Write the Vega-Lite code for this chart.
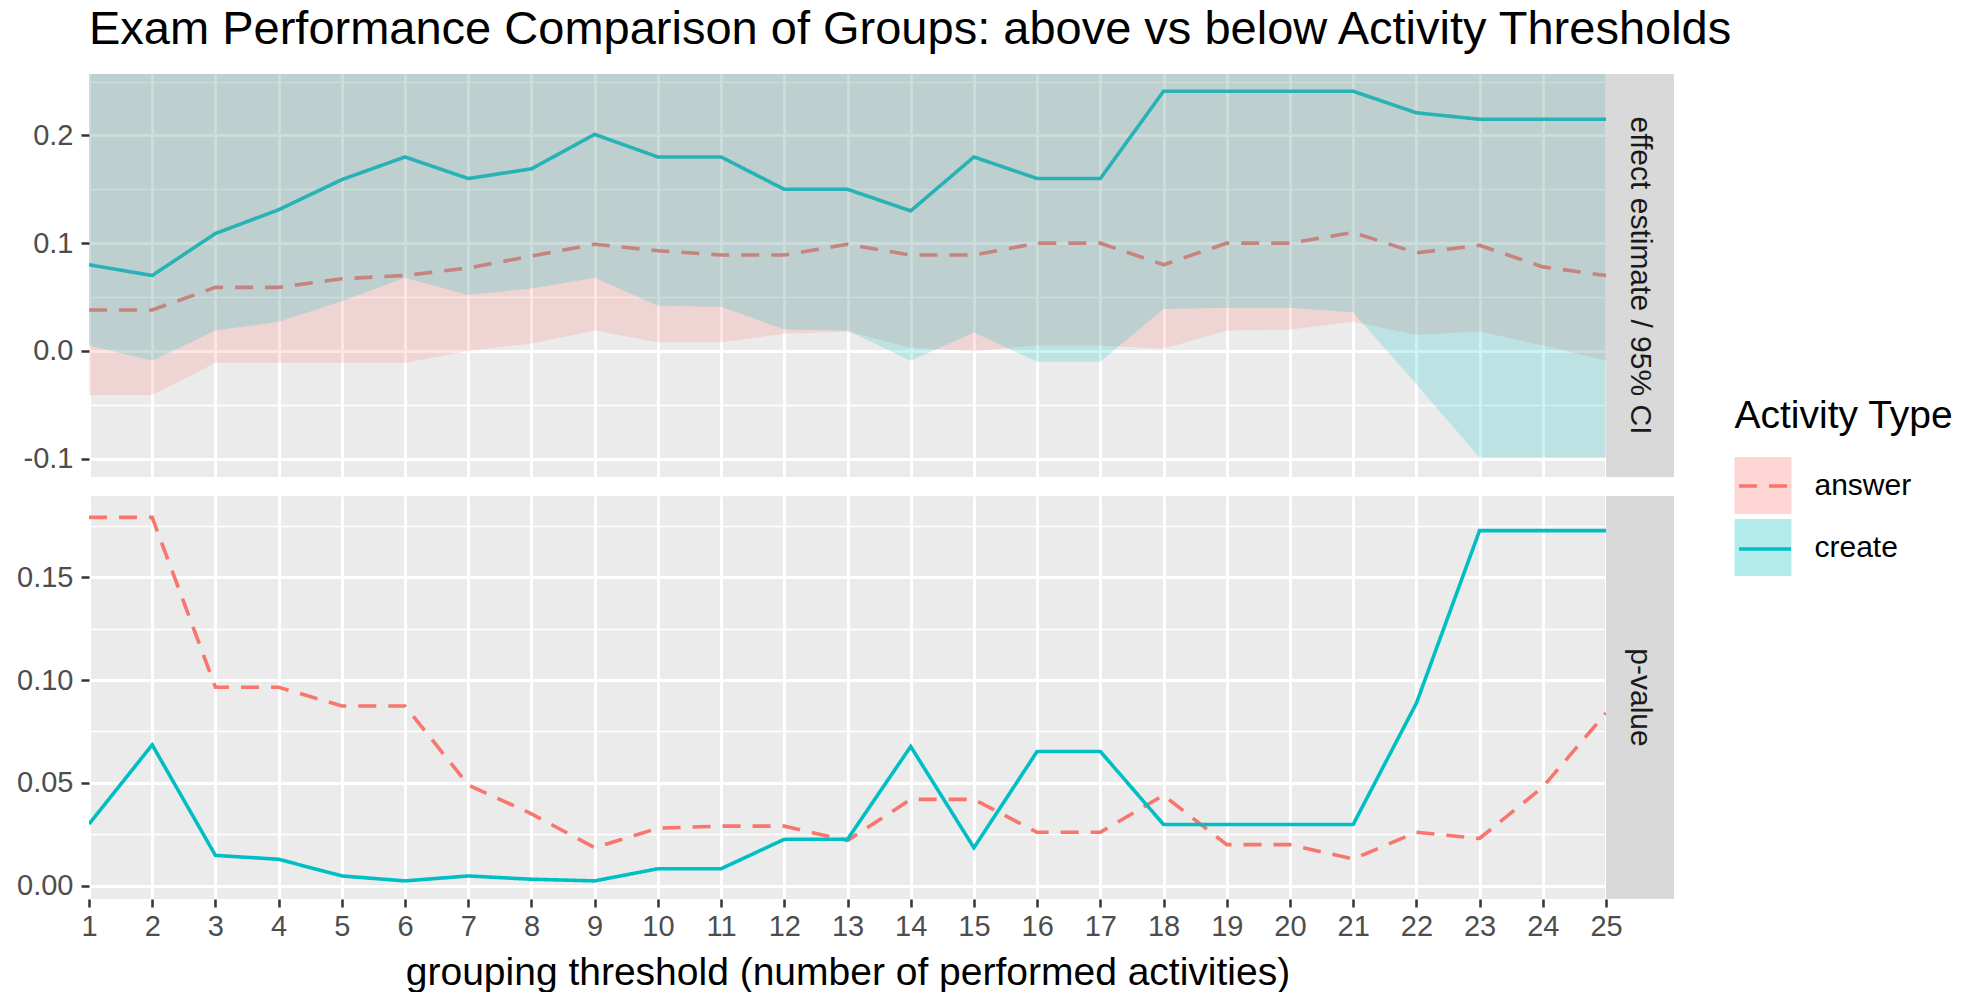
{
  "$schema": "https://vega.github.io/schema/vega-lite/v6.json",
  "background": "white",
  "padding": {"left": 16, "top": 6, "right": 10, "bottom": 0},
  "config": {
    "font": "Liberation Sans",
    "view": {"fill": "#EBEBEB", "stroke": null}
  },
  "datasets": {
    "effect": [
      {"threshold": 1, "activity": "answer", "estimate": 0.038, "ci_low": -0.041},
      {"threshold": 2, "activity": "answer", "estimate": 0.038, "ci_low": -0.041},
      {"threshold": 3, "activity": "answer", "estimate": 0.059, "ci_low": -0.011},
      {"threshold": 4, "activity": "answer", "estimate": 0.059, "ci_low": -0.011},
      {"threshold": 5, "activity": "answer", "estimate": 0.067, "ci_low": -0.011},
      {"threshold": 6, "activity": "answer", "estimate": 0.070, "ci_low": -0.011},
      {"threshold": 7, "activity": "answer", "estimate": 0.077, "ci_low": 0.000},
      {"threshold": 8, "activity": "answer", "estimate": 0.088, "ci_low": 0.007},
      {"threshold": 9, "activity": "answer", "estimate": 0.099, "ci_low": 0.019},
      {"threshold": 10, "activity": "answer", "estimate": 0.093, "ci_low": 0.008},
      {"threshold": 11, "activity": "answer", "estimate": 0.089, "ci_low": 0.008},
      {"threshold": 12, "activity": "answer", "estimate": 0.089, "ci_low": 0.016},
      {"threshold": 13, "activity": "answer", "estimate": 0.099, "ci_low": 0.018},
      {"threshold": 14, "activity": "answer", "estimate": 0.089, "ci_low": 0.003},
      {"threshold": 15, "activity": "answer", "estimate": 0.089, "ci_low": 0.000},
      {"threshold": 16, "activity": "answer", "estimate": 0.100, "ci_low": 0.005},
      {"threshold": 17, "activity": "answer", "estimate": 0.100, "ci_low": 0.005},
      {"threshold": 18, "activity": "answer", "estimate": 0.080, "ci_low": 0.002},
      {"threshold": 19, "activity": "answer", "estimate": 0.100, "ci_low": 0.019},
      {"threshold": 20, "activity": "answer", "estimate": 0.100, "ci_low": 0.020},
      {"threshold": 21, "activity": "answer", "estimate": 0.110, "ci_low": 0.027},
      {"threshold": 22, "activity": "answer", "estimate": 0.091, "ci_low": 0.015},
      {"threshold": 23, "activity": "answer", "estimate": 0.098, "ci_low": 0.018},
      {"threshold": 24, "activity": "answer", "estimate": 0.078, "ci_low": 0.005},
      {"threshold": 25, "activity": "answer", "estimate": 0.070, "ci_low": -0.009},
      {"threshold": 1, "activity": "create", "estimate": 0.080, "ci_low": 0.005},
      {"threshold": 2, "activity": "create", "estimate": 0.070, "ci_low": -0.009},
      {"threshold": 3, "activity": "create", "estimate": 0.109, "ci_low": 0.019},
      {"threshold": 4, "activity": "create", "estimate": 0.131, "ci_low": 0.027},
      {"threshold": 5, "activity": "create", "estimate": 0.159, "ci_low": 0.046},
      {"threshold": 6, "activity": "create", "estimate": 0.180, "ci_low": 0.068},
      {"threshold": 7, "activity": "create", "estimate": 0.160, "ci_low": 0.052},
      {"threshold": 8, "activity": "create", "estimate": 0.169, "ci_low": 0.058},
      {"threshold": 9, "activity": "create", "estimate": 0.201, "ci_low": 0.068},
      {"threshold": 10, "activity": "create", "estimate": 0.180, "ci_low": 0.042},
      {"threshold": 11, "activity": "create", "estimate": 0.180, "ci_low": 0.041},
      {"threshold": 12, "activity": "create", "estimate": 0.150, "ci_low": 0.020},
      {"threshold": 13, "activity": "create", "estimate": 0.150, "ci_low": 0.019},
      {"threshold": 14, "activity": "create", "estimate": 0.130, "ci_low": -0.009},
      {"threshold": 15, "activity": "create", "estimate": 0.180, "ci_low": 0.017},
      {"threshold": 16, "activity": "create", "estimate": 0.160, "ci_low": -0.010},
      {"threshold": 17, "activity": "create", "estimate": 0.160, "ci_low": -0.010},
      {"threshold": 18, "activity": "create", "estimate": 0.241, "ci_low": 0.039},
      {"threshold": 19, "activity": "create", "estimate": 0.241, "ci_low": 0.040},
      {"threshold": 20, "activity": "create", "estimate": 0.241, "ci_low": 0.040},
      {"threshold": 21, "activity": "create", "estimate": 0.241, "ci_low": 0.036},
      {"threshold": 22, "activity": "create", "estimate": 0.221, "ci_low": -0.031},
      {"threshold": 23, "activity": "create", "estimate": 0.215, "ci_low": -0.099},
      {"threshold": 24, "activity": "create", "estimate": 0.215, "ci_low": -0.099},
      {"threshold": 25, "activity": "create", "estimate": 0.215, "ci_low": -0.099}
    ],
    "pvalue": [
      {"threshold": 1, "activity": "answer", "p": 0.179},
      {"threshold": 2, "activity": "answer", "p": 0.179},
      {"threshold": 3, "activity": "answer", "p": 0.0965},
      {"threshold": 4, "activity": "answer", "p": 0.0965},
      {"threshold": 5, "activity": "answer", "p": 0.0874},
      {"threshold": 6, "activity": "answer", "p": 0.0874},
      {"threshold": 7, "activity": "answer", "p": 0.049},
      {"threshold": 8, "activity": "answer", "p": 0.035},
      {"threshold": 9, "activity": "answer", "p": 0.0185},
      {"threshold": 10, "activity": "answer", "p": 0.028},
      {"threshold": 11, "activity": "answer", "p": 0.029},
      {"threshold": 12, "activity": "answer", "p": 0.029},
      {"threshold": 13, "activity": "answer", "p": 0.022},
      {"threshold": 14, "activity": "answer", "p": 0.042},
      {"threshold": 15, "activity": "answer", "p": 0.042},
      {"threshold": 16, "activity": "answer", "p": 0.026},
      {"threshold": 17, "activity": "answer", "p": 0.026},
      {"threshold": 18, "activity": "answer", "p": 0.044},
      {"threshold": 19, "activity": "answer", "p": 0.020},
      {"threshold": 20, "activity": "answer", "p": 0.020},
      {"threshold": 21, "activity": "answer", "p": 0.013},
      {"threshold": 22, "activity": "answer", "p": 0.026},
      {"threshold": 23, "activity": "answer", "p": 0.023},
      {"threshold": 24, "activity": "answer", "p": 0.048},
      {"threshold": 25, "activity": "answer", "p": 0.084},
      {"threshold": 1, "activity": "create", "p": 0.030},
      {"threshold": 2, "activity": "create", "p": 0.0685},
      {"threshold": 3, "activity": "create", "p": 0.0148},
      {"threshold": 4, "activity": "create", "p": 0.0129},
      {"threshold": 5, "activity": "create", "p": 0.0048},
      {"threshold": 6, "activity": "create", "p": 0.0024},
      {"threshold": 7, "activity": "create", "p": 0.0048},
      {"threshold": 8, "activity": "create", "p": 0.0032},
      {"threshold": 9, "activity": "create", "p": 0.0024},
      {"threshold": 10, "activity": "create", "p": 0.0083},
      {"threshold": 11, "activity": "create", "p": 0.0083},
      {"threshold": 12, "activity": "create", "p": 0.0226},
      {"threshold": 13, "activity": "create", "p": 0.0226},
      {"threshold": 14, "activity": "create", "p": 0.0677},
      {"threshold": 15, "activity": "create", "p": 0.0185},
      {"threshold": 16, "activity": "create", "p": 0.0653},
      {"threshold": 17, "activity": "create", "p": 0.0653},
      {"threshold": 18, "activity": "create", "p": 0.0298},
      {"threshold": 19, "activity": "create", "p": 0.0298},
      {"threshold": 20, "activity": "create", "p": 0.0298},
      {"threshold": 21, "activity": "create", "p": 0.0298},
      {"threshold": 22, "activity": "create", "p": 0.0887},
      {"threshold": 23, "activity": "create", "p": 0.1726},
      {"threshold": 24, "activity": "create", "p": 0.1726},
      {"threshold": 25, "activity": "create", "p": 0.1726}
    ]
  },
  "spacing": 19,
  "vconcat": [
    {
      "spacing": 0,
      "bounds": "flush",
      "hconcat": [
        {
          "title": {
            "text": "Exam Performance Comparison of Groups: above vs below Activity Thresholds",
            "anchor": "start",
            "frame": "group",
            "fontSize": 47,
            "fontWeight": "normal",
            "color": "#000000",
            "offset": 20
          },
          "width": 1517,
          "height": 403,
          "data": {"name": "effect"},
          "encoding": {
            "x": {
              "field": "threshold", "type": "quantitative",
              "scale": {"domain": [1, 25], "nice": false, "zero": false},
              "axis": {
                "values": [1, 2, 3, 4, 5, 6, 7, 8, 9, 10, 11, 12, 13, 14, 15, 16, 17, 18, 19, 20, 21, 22, 23, 24, 25],
                "labels": false, "ticks": false, "domain": false, "title": null,
                "grid": true, "gridColor": "#FFFFFF", "gridWidth": 3
              }
            }
          },
          "layer": [
            {
              "mark": {"type": "line", "strokeWidth": 3.6, "clip": true},
              "encoding": {
                "y": {
                  "field": "estimate", "type": "quantitative",
                  "scale": {"domain": [-0.117, 0.257], "nice": false, "zero": false},
                  "axis": {
                    "orient": "left",
                    "values": [-0.1, -0.05, 0, 0.05, 0.1, 0.15, 0.2, 0.25],
                    "title": null, "domain": false,
                    "grid": true, "gridColor": "#FFFFFF",
                    "gridWidth": {"condition": {"test": "abs(datum.value * 10 - round(datum.value * 10)) > 0.01", "value": 1.5}, "value": 3},
                    "tickSize": 8, "tickWidth": 2.5, "tickColor": "#333333",
                    "tickOpacity": {"condition": {"test": "abs(datum.value * 10 - round(datum.value * 10)) > 0.01", "value": 0}, "value": 1},
                    "labelExpr": "abs(datum.value * 10 - round(datum.value * 10)) > 0.01 ? '' : replace(format(datum.value, '.1f'), '\u2212', '-')",
                    "labelFontSize": {"condition": {"test": "abs(datum.value * 10 - round(datum.value * 10)) > 0.01", "value": 0}, "value": 29},
                    "labelColor": "#4D4D4D", "labelPadding": 8, "labelOverlap": false
                  }
                },
                "stroke": {
                  "field": "activity", "type": "nominal",
                  "scale": {"range": ["#F8766D", "#00BFC4"]},
                  "legend": {
                    "orient": "none", "legendX": 1648, "legendY": 384, "direction": "vertical",
                    "title": null, "labelExpr": "''", "padding": 0,
                    "symbolType": "stroke", "symbolSize": 2704, "symbolStrokeWidth": 3.6, "rowPadding": 27
                  }
                },
                "strokeDash": {
                  "field": "activity", "type": "nominal",
                  "scale": {"range": [[18, 12], [1, 0]]},
                  "legend": {
                    "orient": "none", "legendX": 1648, "legendY": 384, "direction": "vertical",
                    "title": null, "labelExpr": "''", "padding": 0,
                    "symbolType": "stroke", "symbolSize": 2704, "symbolStrokeWidth": 3.6, "rowPadding": 27
                  }
                }
              }
            },
            {
              "mark": {"type": "area", "fillOpacity": 0.2, "clip": true},
              "encoding": {
                "y": {
                  "field": "ci_low", "type": "quantitative", "stack": null,
                  "axis": {
                    "orient": "left",
                    "values": [-0.1, -0.05, 0, 0.05, 0.1, 0.15, 0.2, 0.25],
                    "title": null, "domain": false,
                    "grid": true, "gridColor": "#FFFFFF",
                    "gridWidth": {"condition": {"test": "abs(datum.value * 10 - round(datum.value * 10)) > 0.01", "value": 1.5}, "value": 3},
                    "tickSize": 8, "tickWidth": 2.5, "tickColor": "#333333",
                    "tickOpacity": {"condition": {"test": "abs(datum.value * 10 - round(datum.value * 10)) > 0.01", "value": 0}, "value": 1},
                    "labelExpr": "abs(datum.value * 10 - round(datum.value * 10)) > 0.01 ? '' : replace(format(datum.value, '.1f'), '\u2212', '-')",
                    "labelFontSize": {"condition": {"test": "abs(datum.value * 10 - round(datum.value * 10)) > 0.01", "value": 0}, "value": 29},
                    "labelColor": "#4D4D4D", "labelPadding": 8, "labelOverlap": false
                  }
                },
                "y2": {"datum": 0.257},
                "fill": {
                  "field": "activity", "type": "nominal",
                  "scale": {"domain": ["answer", "create"], "range": ["#F8766D", "#00BFC4"]},
                  "legend": {
                    "orient": "none", "legendX": 1645.5, "legendY": 323, "direction": "vertical", "padding": 0,
                    "title": "Activity Type", "titleFontSize": 39, "titleFontWeight": "normal", "titleColor": "#000000",
                    "titlePadding": 21, "titleLimit": 500,
                    "symbolType": "square", "symbolSize": 3249, "symbolOpacity": 0.3, "symbolStrokeWidth": 0,
                    "labelFontSize": 30, "labelColor": "#000000", "labelOffset": 23, "rowPadding": 5
                  }
                }
              }
            }
          ]
        },
        {
          "width": 68,
          "height": 403,
          "view": {"fill": "#D9D9D9", "stroke": null},
          "data": {"values": [{"panel": "effect estimate / 95% CI"}]},
          "mark": {"type": "text", "angle": 90, "fontSize": 30, "color": "#1A1A1A"},
          "encoding": {"text": {"field": "panel", "type": "nominal"}}
        }
      ]
    },
    {
      "spacing": 0,
      "bounds": "flush",
      "hconcat": [
        {
          "width": 1517,
          "height": 403,
          "data": {"name": "pvalue"},
          "mark": {"type": "line", "strokeWidth": 3.6, "clip": true},
          "encoding": {
            "x": {
              "field": "threshold", "type": "quantitative",
              "scale": {"domain": [1, 25], "nice": false, "zero": false},
              "axis": {
                "values": [1, 2, 3, 4, 5, 6, 7, 8, 9, 10, 11, 12, 13, 14, 15, 16, 17, 18, 19, 20, 21, 22, 23, 24, 25],
                "format": "d", "domain": false,
                "grid": true, "gridColor": "#FFFFFF", "gridWidth": 3,
                "tickSize": 8, "tickWidth": 2.5, "tickColor": "#333333",
                "labelFontSize": 29, "labelColor": "#4D4D4D", "labelPadding": 5,
                "labelFlush": false, "labelOverlap": false,
                "title": "grouping threshold (number of performed activities)",
                "titleFontSize": 39, "titleFontWeight": "normal", "titleColor": "#000000", "titlePadding": 12
              }
            },
            "y": {
              "field": "p", "type": "quantitative",
              "scale": {"domain": [-0.0064, 0.1894], "nice": false, "zero": false},
              "axis": {
                "orient": "left",
                "values": [0, 0.025, 0.05, 0.075, 0.1, 0.125, 0.15, 0.175],
                "title": null, "domain": false,
                "grid": true, "gridColor": "#FFFFFF",
                "gridWidth": {"condition": {"test": "abs(datum.value * 20 - round(datum.value * 20)) > 0.01", "value": 1.5}, "value": 3},
                "tickSize": 8, "tickWidth": 2.5, "tickColor": "#333333",
                "tickOpacity": {"condition": {"test": "abs(datum.value * 20 - round(datum.value * 20)) > 0.01", "value": 0}, "value": 1},
                "labelExpr": "abs(datum.value * 20 - round(datum.value * 20)) > 0.01 ? '' : format(datum.value, '.2f')",
                "labelFontSize": {"condition": {"test": "abs(datum.value * 20 - round(datum.value * 20)) > 0.01", "value": 0}, "value": 29},
                "labelColor": "#4D4D4D", "labelPadding": 8, "labelOverlap": false
              }
            },
            "stroke": {
              "field": "activity", "type": "nominal",
              "scale": {"range": ["#F8766D", "#00BFC4"]},
              "legend": {
                "orient": "none", "legendX": 1648, "legendY": 384, "direction": "vertical",
                "title": null, "labelExpr": "''", "padding": 0,
                "symbolType": "stroke", "symbolSize": 2704, "symbolStrokeWidth": 3.6, "rowPadding": 27
              }
            },
            "strokeDash": {
              "field": "activity", "type": "nominal",
              "scale": {"range": [[18, 12], [1, 0]]},
              "legend": {
                "orient": "none", "legendX": 1648, "legendY": 384, "direction": "vertical",
                "title": null, "labelExpr": "''", "padding": 0,
                "symbolType": "stroke", "symbolSize": 2704, "symbolStrokeWidth": 3.6, "rowPadding": 27
              }
            }
          }
        },
        {
          "width": 68,
          "height": 403,
          "view": {"fill": "#D9D9D9", "stroke": null},
          "data": {"values": [{"panel": "p-value"}]},
          "mark": {"type": "text", "angle": 90, "fontSize": 30, "color": "#1A1A1A"},
          "encoding": {"text": {"field": "panel", "type": "nominal"}}
        }
      ]
    }
  ]
}
